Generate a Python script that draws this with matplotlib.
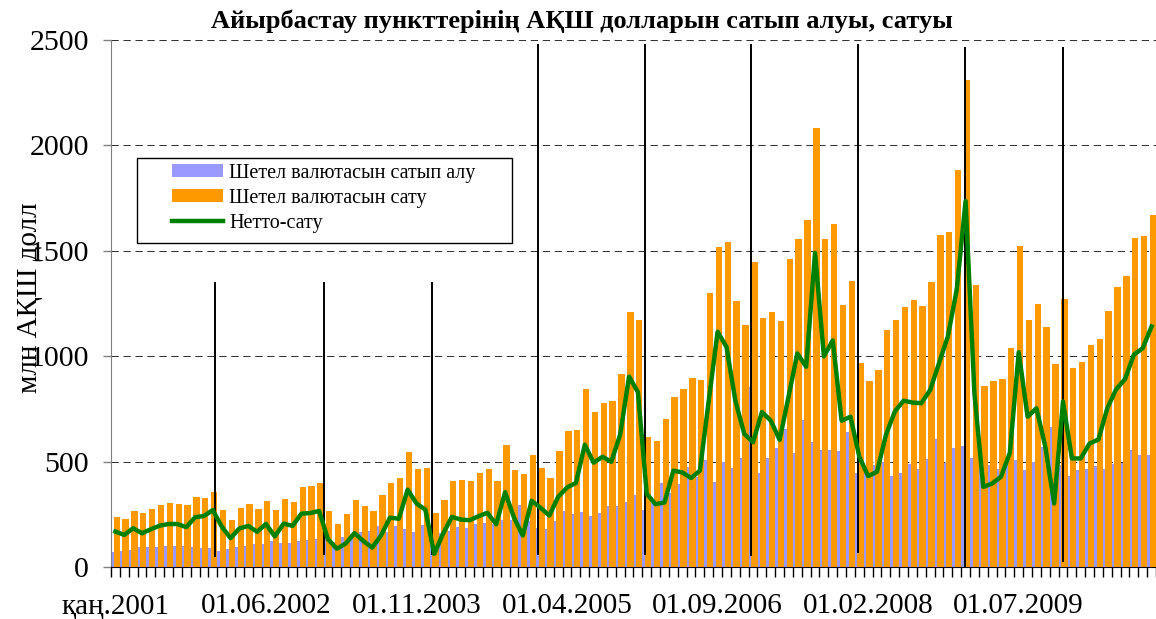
import numpy as np
import matplotlib
matplotlib.use('Agg')
import matplotlib.pyplot as plt
from matplotlib.patches import Rectangle

plt.rcParams['font.family'] = ['Liberation Serif', 'DejaVu Serif']

# monthly data, Jan 2001 .. Oct 2010, mln USD
sell = [239, 226, 266, 255, 277, 292, 303, 299, 292, 332, 327, 358,
        269, 223, 278, 297, 277, 313, 270, 321, 309, 378, 384, 398,
        268, 204, 253, 317, 288, 267, 343, 400, 424, 546, 467, 471,
        258, 316, 409, 414, 406, 448, 464, 407, 577, 460, 442, 531,
        468, 423, 552, 645, 650, 843, 734, 777, 789, 915, 1211, 1174,
        616, 600, 703, 806, 843, 895, 886, 1298, 1520, 1541, 1262, 1147,
        1446, 1182, 1212, 1166, 1462, 1554, 1647, 2084, 1556, 1629, 1244, 1355,
        970, 883, 935, 1125, 1170, 1233, 1268, 1240, 1352, 1574, 1587, 1881,
        2310, 1338, 859, 881, 891, 1037, 1525, 1173, 1249, 1138, 964, 1271,
        945, 973, 1051, 1083, 1216, 1330, 1382, 1561, 1570, 1671]

buy = [70, 74, 82, 93, 97, 94, 98, 100, 102, 96, 88, 90,
       76, 86, 95, 102, 110, 107, 123, 115, 114, 125, 128, 132,
       136, 117, 140, 158, 165, 172, 193, 166, 195, 179, 166, 197,
       196, 160, 172, 188, 183, 206, 207, 202, 221, 225, 292, 217,
       187, 180, 220, 266, 252, 260, 240, 256, 290, 288, 310, 342,
       270, 302, 397, 349, 394, 473, 429, 508, 404, 497, 472, 515,
       854, 447, 517, 563, 656, 541, 697, 594, 557, 554, 550, 642,
       447, 452, 483, 499, 433, 444, 488, 463, 512, 607, 493, 565,
       574, 518, 479, 485, 463, 495, 506, 460, 496, 567, 663, 486,
       430, 458, 465, 478, 463, 487, 491, 554, 532, 530]

net = [168, 152, 184, 160, 179, 196, 204, 204, 189, 236, 242, 270,
       192, 137, 183, 195, 167, 204, 145, 206, 195, 253, 256, 266,
       132, 87, 111, 161, 123, 92, 150, 234, 229, 367, 301, 272,
       62, 158, 238, 225, 222, 241, 257, 203, 355, 235, 149, 314,
       281, 244, 333, 377, 399, 580, 495, 523, 499, 629, 903, 830,
       346, 298, 306, 457, 449, 422, 457, 790, 1116, 1044, 790, 632,
       592, 735, 695, 603, 806, 1013, 950, 1490, 999, 1075, 694, 713,
       523, 431, 452, 626, 737, 789, 780, 777, 840, 967, 1094, 1316,
       1736, 820, 380, 396, 428, 542, 1019, 713, 753, 571, 301, 785,
       515, 515, 586, 605, 753, 843, 891, 1007, 1038, 1141]

label_idx = [0, 17, 34, 51, 68, 85, 102]
label_txt = ['қаң.2001', '01.06.2002', '01.11.2003', '01.04.2005',
             '01.09.2006', '01.02.2008', '01.07.2009']

# hand drawn year separators (month index, bottom, top)
year_marks = [11.25, 23.57, 35.77, 47.7, 59.8, 71.8, 83.9, 95.9, 107.0]
marks_bottom = [47, 57, 57, 57, 57, 52, 66, 0, 25]
marks_top = [1350, 1350, 1350, 2480, 2480, 2480, 2480, 2465, 2465]

months = np.arange(len(sell))

fig = plt.figure(figsize=(11.56, 6.19), dpi=100)
ax = fig.add_axes([0.096, 0.084, 0.904, 0.8514])

b1 = ax.bar(months - 0.15, buy, width=0.8, color='#9999FF', zorder=2,
            label='Шетел валютасын сатып алу')
b2 = ax.bar(months + 0.15, sell, width=0.72, color='#FF9900', zorder=3,
            label='Шетел валютасын сату')
ax.vlines(year_marks, marks_bottom, marks_top, color='black', lw=1.4, zorder=4)
ln, = ax.plot(months, net, color='#008000', lw=3.2, zorder=5, label='Нетто-сату')

ax.set_xlim(-0.5, len(months) - 0.5)
ax.set_ylim(0, 2500)
ax.set_yticks(range(0, 2501, 500))
ax.yaxis.grid(True, linestyle=(0, (7, 4.5)), color='#333333', lw=0.75)
ax.set_axisbelow(True)

ax.set_xticks(label_idx)
ax.set_xticklabels(label_txt)
ax.set_xticks(np.arange(len(months) + 1) - 0.5, minor=True)
ax.tick_params(axis='x', which='major', length=0, pad=19, labelsize=21)
ax.tick_params(axis='x', which='minor', length=7, width=1, color='black')
ax.tick_params(axis='y', length=6, width=1, color='#808080', pad=10, labelsize=21.5)

for s in ['top', 'right']:
    ax.spines[s].set_visible(False)
ax.spines['left'].set_color('#808080')
ax.spines['bottom'].set_color('black')

ax.add_patch(Rectangle((0.0249, 0.6148), 0.3589, 0.1613, transform=ax.transAxes,
                       facecolor='white', edgecolor='black', lw=1, zorder=6))
ax.legend(handles=[b1, b2, ln], loc='upper left', bbox_to_anchor=(0.0584, 0.765),
          frameon=False, borderpad=0, borderaxespad=0, fontsize=14.5,
          handlelength=2.55, handleheight=0.6, handletextpad=0.3,
          labelspacing=0.3).set_zorder(7)

fig.text(0.503, 0.966, 'Айырбастау пункттерінің АҚШ долларын сатып алуы, сатуы',
         ha='center', va='center', fontsize=19, fontweight='bold')
fig.text(0.026, 0.519, 'млн АҚШ долл', rotation=90, ha='center', va='center',
         fontsize=21)

fig.savefig('out.png', dpi=100)
